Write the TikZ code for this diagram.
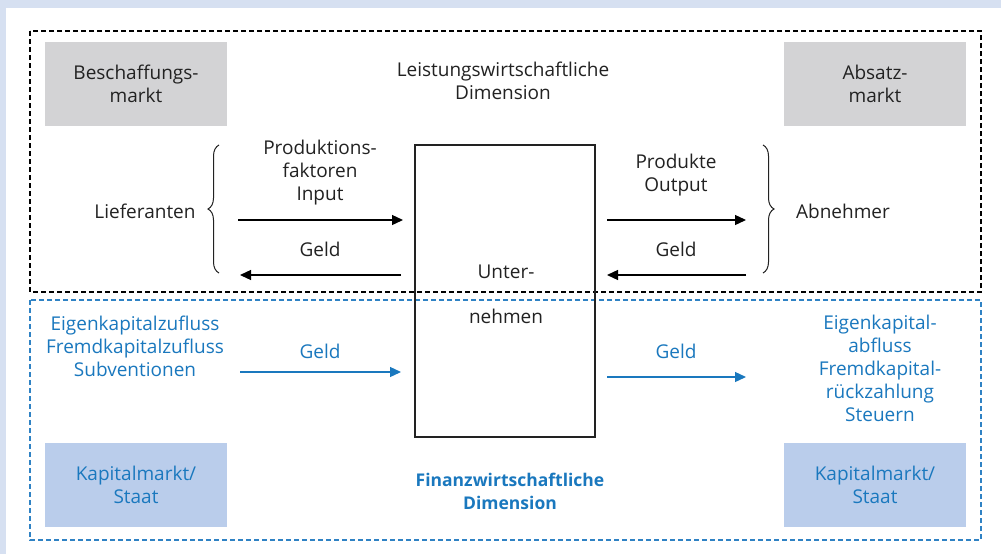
\documentclass[tikz,border=0pt]{standalone}
\usepackage{fontspec}
\setmainfont{Open Sans}
\usetikzlibrary{arrows.meta,decorations.pathreplacing}
\definecolor{bgblue}{HTML}{D6E0F1}
\definecolor{txt}{HTML}{222222}
\definecolor{fblue}{HTML}{1A78BE}
\definecolor{dblue}{HTML}{2F82C4}
\definecolor{grayfill}{HTML}{D3D3D5}
\definecolor{bluefill}{HTML}{BACDEB}
\tikzset{
  lbl/.style={font=\fontsize{19}{23}\selectfont, text=txt, align=center, inner sep=0pt},
  blbl/.style={lbl, text=fblue},
  graybox/.style={fill=grayfill, minimum width=182pt, minimum height=84pt, lbl},
  bluebox/.style={fill=bluefill, minimum width=182pt, minimum height=84pt, blbl},
  arr/.style={line width=1.3pt, draw=black, -{Triangle[length=11pt,width=10pt]}},
  barr/.style={line width=1.3pt, draw=fblue, -{Triangle[length=11pt,width=10pt]}},
  brc/.style={decorate, decoration={brace, amplitude=11pt}, line width=1pt, draw=txt},
}
\begin{document}
\begin{tikzpicture}[x=1pt,y=-1pt]
\useasboundingbox (0,0) rectangle (1001,554);
\fill[bgblue] (0,0) rectangle (1001,554);
\fill[white] (6,8) rectangle (1001,554);
% frames
\draw[black, line width=1.1pt, dash pattern=on 5pt off 3pt] (30,31) rectangle (981,292);
\draw[dblue, line width=1.1pt, dash pattern=on 5pt off 3pt] (30,300) rectangle (981,540);
% company
\node[draw=txt, line width=1.3pt, minimum width=180pt, minimum height=292pt, inner sep=0pt] (U) at (505,291) {};
\node[lbl] (u1) at (506,272) {Unter-};
\node[lbl] (u2) at (506,316) {nehmen};
% boxes
\node[graybox] (bm) at (136,84) {Beschaffungs-\\markt};
\node[graybox] (am) at (875,84) {Absatz-\\markt};
\node[bluebox] (k1) at (136,485) {Kapitalmarkt/\\Staat};
\node[bluebox] (k2) at (875,485) {Kapitalmarkt/\\Staat};
% texts
\node[lbl] (ld) at (503,81) {Leistungswirtschaftliche\\Dimension};
\node[lbl] (pf) at (320,173) {Produktions-\\faktoren\\Input};
\node[lbl] (po) at (676,175) {Produkte\\Output};
\node[lbl] (g1) at (320,249) {Geld};
\node[lbl] (g2) at (676,249) {Geld};
\node[lbl] (lf) at (145,211) {Lieferanten};
\node[lbl] (ab) at (843,211) {Abnehmer};
\node[blbl] (g3) at (320,351) {Geld};
\node[blbl] (g4) at (676,351) {Geld};
\node[blbl] (ez) at (135,346) {Eigenkapitalzufluss\\Fremdkapitalzufluss\\Subventionen};
\node[blbl] (ea) at (880,368) {Eigenkapital-\\abfluss\\Fremdkapital-\\rückzahlung\\Steuern};
\node[blbl, font=\bfseries\fontsize{17.5}{23}\selectfont] (fd) at (510,491) {Finanzwirtschaftliche\\Dimension};
% arrow end points
\coordinate (a1s) at (238,220); \coordinate (a1e) at (403,220);
\coordinate (a2s) at (401,275); \coordinate (a2e) at (240,275);
\coordinate (a3s) at (607,220); \coordinate (a3e) at (746,220);
\coordinate (a4s) at (746,275); \coordinate (a4e) at (607,275);
\coordinate (a5s) at (240,372); \coordinate (a5e) at (401,372);
\coordinate (a6s) at (607,377); \coordinate (a6e) at (746,377);
\draw[arr] (a1s) -- (a1e);
\draw[arr] (a2s) -- (a2e);
\draw[arr] (a3s) -- (a3e);
\draw[arr] (a4s) -- (a4e);
\draw[barr] (a5s) -- (a5e);
\draw[barr] (a6s) -- (a6e);
% braces
\coordinate (b1t) at (219,145); \coordinate (b1b) at (219,273);
\coordinate (b2t) at (763,145); \coordinate (b2b) at (763,273);
\draw[brc] (b1b) -- (b1t);
\draw[brc] (b2t) -- (b2b);
\end{tikzpicture}
\end{document}
